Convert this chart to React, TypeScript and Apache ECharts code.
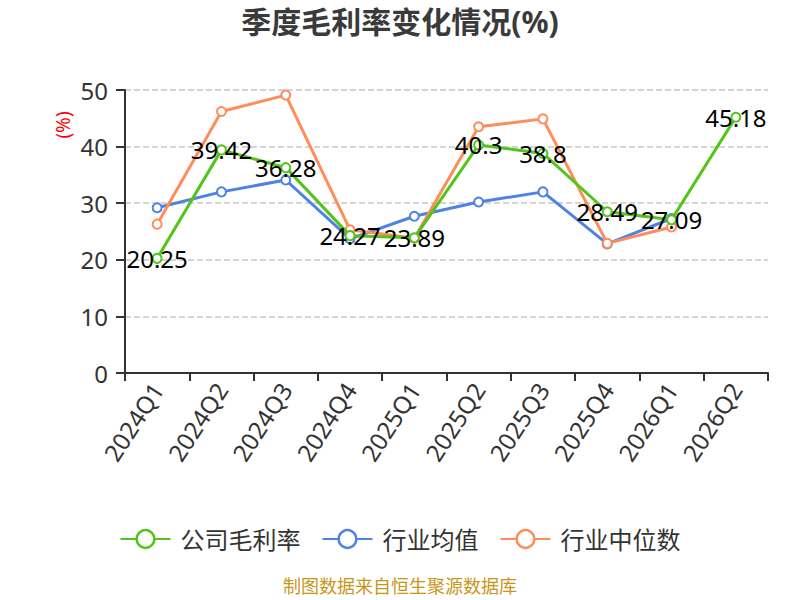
import React, { useEffect, useRef } from "react";
import * as echarts from "echarts";

const categories = ["2024Q1", "2024Q2", "2024Q3", "2024Q4", "2025Q1", "2025Q2", "2025Q3", "2025Q4", "2026Q1", "2026Q2"];
const companyMargin = [20.25, 39.42, 36.28, 24.27, 23.89, 40.3, 38.8, 28.49, 27.09, 45.18];
const industryMean = [29.2, 32.0, 34.1, 23.7, 27.7, 30.2, 32.0, 22.8, 27.3, null];
const industryMedian = [26.3, 46.2, 49.1, 25.3, 23.8, 43.5, 44.9, 22.9, 25.8, null];
const seriesNames = ["公司毛利率", "行业均值", "行业中位数"];

const FONT = "'Noto Sans', 'Noto Sans CJK SC', sans-serif";

export default function App() {
  const ref = useRef<HTMLDivElement>(null);
  useEffect(() => {
    if (!ref.current) return;
    const chart = echarts.init(ref.current, undefined, { renderer: "svg" });
    const colors = ["#52c41a", "#4e82e6", "#ff8c5a"];
    const mk = (name: string, data: any[], color: string, label: boolean) => ({
      name,
      type: "line",
      data,
      symbol: "circle",
      symbolSize: 9,
      showAllSymbol: true,
      color,
      lineStyle: { width: 3, color },
      itemStyle: { color: "#fff", borderColor: color, borderWidth: 2 },
      label: label
        ? { show: true, position: "inside", color: "#000", fontSize: 24, fontFamily: FONT }
        : { show: false },
      z: label ? 3 : 2,
    });
    chart.setOption({
      animation: false,
      color: colors,
      textStyle: { fontFamily: FONT },
      title: {
        text: "季度毛利率变化情况(%)",
        left: "center",
        top: 1,
        textStyle: { fontSize: 30, fontWeight: "bold", color: "#3a3a3a", fontFamily: FONT },
      },
      grid: { left: 125, right: 32, top: 90, bottom: 227, containLabel: false },
      legend: {
        top: 522,
        left: "center",
        itemWidth: 50,
        itemHeight: 22,
        itemGap: 21,
        itemStyle: { borderWidth: 2.5 },
        textStyle: { fontSize: 24, color: "#333", fontFamily: FONT, padding: [0, 0, 0, 5] },
        data: seriesNames,
      },
      xAxis: {
        type: "category",
        data: categories,
        boundaryGap: true,
        axisLine: { lineStyle: { color: "#333", width: 2 } },
        axisTick: { show: true, length: 8, lineStyle: { color: "#333", width: 2 } },
        axisLabel: { rotate: 57, fontSize: 24, color: "#333", margin: 12, interval: 0, fontFamily: FONT },
      },
      yAxis: {
        type: "value",
        min: 0,
        max: 50,
        interval: 10,
        axisLine: { show: true, lineStyle: { color: "#333", width: 2 } },
        axisTick: { show: true, length: 9, lineStyle: { color: "#333", width: 2 } },
        axisLabel: { fontSize: 24, color: "#333", margin: 17, fontFamily: FONT },
        splitLine: { lineStyle: { type: "dashed", color: "#c8c8c8", width: 1.5 } },
      },
      graphic: [
        {
          type: "text",
          x: 63,
          y: 125,
          rotation: Math.PI / 2,
          style: {
            text: "(%)",
            fill: "#ff0000",
            fontSize: 19,
            fontFamily: FONT,
            align: "center",
            verticalAlign: "middle",
          },
        },
        {
          type: "text",
          left: "center",
          top: 577,
          style: { text: "制图数据来自恒生聚源数据库", fill: "#c9961a", fontSize: 18, fontFamily: FONT },
        },
      ],
      series: [
        mk(seriesNames[0], companyMargin, colors[0], true),
        mk(seriesNames[1], industryMean, colors[1], false),
        mk(seriesNames[2], industryMedian, colors[2], false),
      ],
    });
    return () => chart.dispose();
  }, []);
  return <div ref={ref} style={{ width: 800, height: 600, position: "absolute", left: 0, top: 0 }} />;
}
